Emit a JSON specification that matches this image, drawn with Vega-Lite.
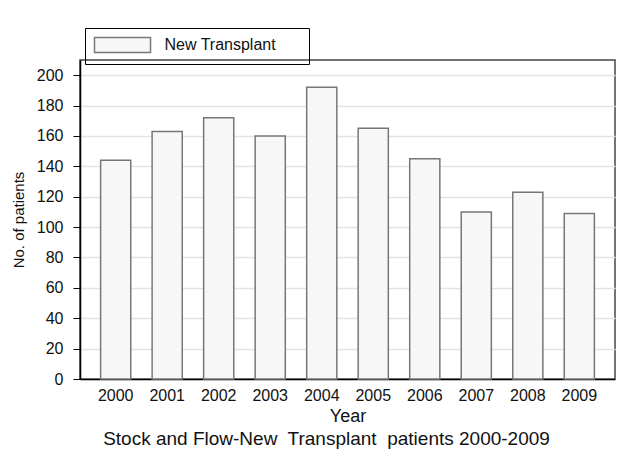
{
  "$schema": "https://vega.github.io/schema/vega-lite/v6.json",
  "width": 535,
  "height": 319,
  "autosize": {"type": "none"},
  "padding": {"left": 80, "top": 60, "right": 2, "bottom": 81},
  "background": "white",
  "title": {
    "text": "Stock and Flow-New\u00a0 Transplant\u00a0 patients 2000-2009",
    "orient": "bottom",
    "anchor": "middle",
    "font": "Liberation Sans",
    "fontSize": 19,
    "fontWeight": "normal",
    "color": "#111",
    "offset": 5,
    "dx": -21
  },
  "data": {
    "values": [
      {"year": "2000", "patients": 144, "series": "New Transplant"},
      {"year": "2001", "patients": 163, "series": "New Transplant"},
      {"year": "2002", "patients": 172, "series": "New Transplant"},
      {"year": "2003", "patients": 160, "series": "New Transplant"},
      {"year": "2004", "patients": 192, "series": "New Transplant"},
      {"year": "2005", "patients": 165, "series": "New Transplant"},
      {"year": "2006", "patients": 145, "series": "New Transplant"},
      {"year": "2007", "patients": 110, "series": "New Transplant"},
      {"year": "2008", "patients": 123, "series": "New Transplant"},
      {"year": "2009", "patients": 109, "series": "New Transplant"}
    ]
  },
  "mark": {"type": "bar", "strokeWidth": 1.5, "stroke": "#777"},
  "encoding": {
    "x": {
      "field": "year",
      "type": "ordinal",
      "scale": {"paddingInner": 0.415, "paddingOuter": 0.4},
      "axis": {
        "title": "Year",
        "labelAngle": 0,
        "ticks": false,
        "labelPadding": 8,
        "titlePadding": 4,
        "domainColor": "#000",
        "domainWidth": 1.5
      }
    },
    "y": {
      "field": "patients",
      "type": "quantitative",
      "scale": {"domain": [0, 210], "nice": false},
      "axis": {
        "title": "No. of patients",
        "values": [0, 20, 40, 60, 80, 100, 120, 140, 160, 180, 200],
        "tickSize": 7,
        "tickColor": "#000",
        "labelPadding": 10,
        "titlePadding": 10,
        "domainColor": "#000",
        "domainWidth": 1.5,
        "gridColor": "#e3e3e3",
        "gridWidth": 1.5
      }
    },
    "fill": {
      "field": "series",
      "type": "nominal",
      "scale": {"range": ["#f7f7f7"]},
      "legend": {
        "title": null,
        "orient": "none",
        "legendX": 5,
        "legendY": -32,
        "direction": "horizontal",
        "strokeColor": "#000",
        "padding": 8.5,
        "symbolType": "M-1,-1H6.47V1H-1Z",
        "symbolSize": 225,
        "symbolStrokeColor": "#777",
        "symbolStrokeWidth": 1.5,
        "labelFont": "Liberation Sans",
        "labelFontSize": 16,
        "labelColor": "#111",
        "labelOffset": 54,
        "labelLimit": 400,
        "labelExpr": "datum.label + '\u2800\u2800'"
      }
    }
  },
  "config": {
    "font": "Liberation Sans",
    "view": {"stroke": "#444", "strokeWidth": 1.5},
    "axis": {
      "labelFont": "Liberation Sans",
      "labelFontSize": 16,
      "labelColor": "#111",
      "titleFont": "Liberation Sans",
      "titleFontSize": 18,
      "titleFontWeight": "normal",
      "titleColor": "#111"
    },
    "axisY": {"titleFontSize": 15}
  }
}
